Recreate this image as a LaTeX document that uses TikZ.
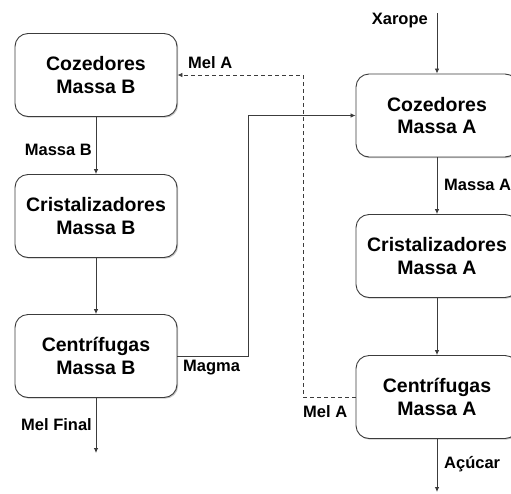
\documentclass[tikz,border=0pt]{standalone}
\usepackage{fontspec}
\setmainfont{Liberation Sans}
\usetikzlibrary{arrows.meta}
\usetikzlibrary{shadows}
\definecolor{linegray}{RGB}{60,60,60}
\tikzset{
    unit/.style={draw=linegray, line width=0.9pt, rounded corners=13pt, fill=white,
        drop shadow={shadow xshift=1.2pt, shadow yshift=-1.2pt, opacity=0.45},
        minimum width=162pt, minimum height=83pt, align=center,
        font=\fontsize{19.5}{22.5}\selectfont\bfseries},
    flow/.style={draw=linegray, line width=0.8pt, -{Latex[length=5pt,width=4.5pt]}},
    lab/.style={font=\fontsize{16.5}{18}\selectfont\bfseries, inner sep=0pt}
}
\begin{document}
\begin{tikzpicture}[x=1pt, y=-1pt]
    \useasboundingbox (0,0) rectangle (511,493);
    \clip (0,0) rectangle (511,493);
    \node[unit] (cozB) at (96,75) {Cozedores\\Massa B};
    \node[unit] (criB) at (96,216) {Cristalizadores\\Massa B};
    \node[unit] (cenB) at (96,356) {Centrífugas\\Massa B};
    \node[unit] (cozA) at (437,115.5) {Cozedores\\Massa A};
    \node[unit] (criA) at (437,256) {Cristalizadores\\Massa A};
    \node[unit] (cenA) at (437,397) {Centrífugas\\Massa A};
    \coordinate (xarope) at (437,13);
    \coordinate (melfinal) at (96,453);
    \coordinate (acucar) at (437,492);
    \coordinate (magmaturn) at (248,356);
    \coordinate (melturn) at (303,397);
    \draw[flow] (cozB) -- (criB);
    \draw[flow] (criB) -- (cenB);
    \draw[flow] (cenB) -- (melfinal);
    \draw[flow] (xarope) -- (cozA);
    \draw[flow] (cozA) -- (criA);
    \draw[flow] (criA) -- (cenA);
    \draw[flow] (cenA) -- (acucar);
    \draw[flow] (cenB.east) -- (magmaturn) |- (cozA.west);
    \draw[flow, dash pattern=on 4pt off 3pt] (cenA.west) -- (melturn) |- (cozB.east);
    \node[lab, anchor=east] (lxarope) at (428,21) {Xarope};
    \node[lab, anchor=east] (lmassab) at (92,150) {Massa B};
    \node[lab, anchor=west] (lmassaa) at (444,185) {Massa A};
    \node[lab, anchor=west] (lmela1) at (188,63) {Mel A};
    \node[lab, anchor=west] (lmagma) at (183,368) {Magma};
    \node[lab, anchor=east] (lmelfinal) at (92,425) {Mel Final};
    \node[lab, anchor=west] (lmela2) at (303,412) {Mel A};
    \node[lab, anchor=west] (lacucar) at (444,464) {Açúcar};
\end{tikzpicture}
\end{document}
